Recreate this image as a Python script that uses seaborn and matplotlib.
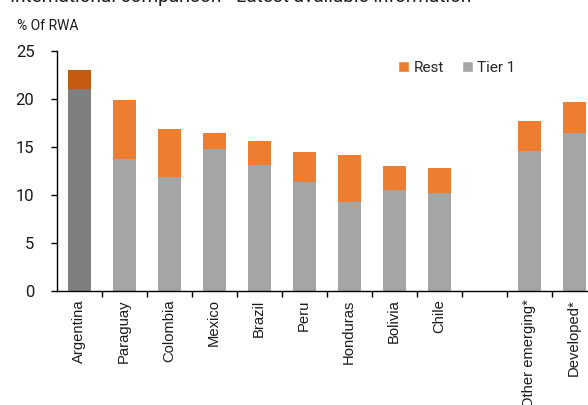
import matplotlib
matplotlib.use("Agg")
import matplotlib.pyplot as plt
from matplotlib.patches import Patch
from matplotlib.ticker import FixedLocator
import seaborn as sns
import pandas as pd
import numpy as np

# ---- data ----
countries = ["Argentina", "Paraguay", "Colombia", "Mexico", "Brazil", "Peru",
             "Honduras", "Bolivia", "Chile", "Other emerging*", "Developed*"]
tier1 = [21.0, 13.8, 11.9, 14.8, 13.1, 11.4, 9.3, 10.55, 10.25, 14.6, 16.45]
rest = [2.0, 6.1, 5.0, 1.7, 2.5, 3.05, 4.9, 2.45, 2.55, 3.1, 3.25]
yticks = [0, 5, 10, 15, 20, 25]

title = "International comparison - Latest available information"
ylabel = "% Of RWA"

# slot order, with an empty gap slot between Chile and Other emerging*
gap = " "
order = countries[:9] + [gap] + countries[9:]

ORANGE = "#ED7D31"
GRAY = "#A5A5A5"
DARK_ORANGE = "#C55A11"
DARK_GRAY = "#7F7F7F"

df = pd.DataFrame({"country": countries, "tier1": tier1, "rest": rest})
df["total"] = df["tier1"] + df["rest"]

top_pal = {c: (DARK_ORANGE if c == "Argentina" else ORANGE) for c in order}
bot_pal = {c: (DARK_GRAY if c == "Argentina" else GRAY) for c in order}

sns.set_theme(style="white")
plt.rcParams["font.family"] = ["Roboto", "DejaVu Sans"]

fig = plt.figure(figsize=(5.88, 4.05), dpi=100)
W, H = 588, 405
ax = fig.add_axes([56.7 / W, 114 / H, 540 / W, 240 / H])

sns.barplot(data=df, x="country", y="total", hue="country", order=order,
            hue_order=order, palette=top_pal, width=0.51, legend=False,
            ax=ax, edgecolor="none", saturation=1)
sns.barplot(data=df, x="country", y="tier1", hue="country", order=order,
            hue_order=order, palette=bot_pal, width=0.51, legend=False,
            ax=ax, edgecolor="none", saturation=1)

ax.set_xlim(-0.5, len(order) - 0.5)
ax.set_ylim(0, 25)
ax.set_yticks(yticks)
ax.set_xlabel("")
ax.set_ylabel("")

for s in ["top", "right"]:
    ax.spines[s].set_visible(False)
for s in ["left", "bottom"]:
    ax.spines[s].set_color("black")
    ax.spines[s].set_linewidth(1.0)

ax.tick_params(axis="y", which="major", left=True, length=4, width=1,
               color="black", labelsize=12, pad=12, labelcolor="#1a1a1a")
ax.set_xticks(range(len(order)))
ax.set_xticklabels(order, rotation=90, fontsize=10.6,
                   family=["Liberation Sans", "DejaVu Sans"])
ax.tick_params(axis="x", which="major", bottom=True, length=0, pad=6,
               labelcolor="#1a1a1a")
ax.xaxis.set_minor_locator(FixedLocator(np.arange(0.5, len(order) - 0.5, 1.0)))
ax.tick_params(axis="x", which="minor", bottom=True, length=4, width=1,
               color="black", direction="out")

handles = [Patch(facecolor=ORANGE, label="Rest"),
           Patch(facecolor=GRAY, label="Tier 1")]
fig.legend(handles=handles, loc="center left",
           bbox_to_anchor=(392 / W, 1 - 68 / H), ncol=2, frameon=False,
           fontsize=11, handlelength=0.7, handleheight=0.7,
           handletextpad=0.3, columnspacing=1.2, borderaxespad=0)

fig.text(17 / W, 1 - 30 / H, ylabel, fontsize=10, ha="left", va="baseline",
         color="#1a1a1a")
fig.text(10 / W, 1 - 2 / H, title, fontsize=13.7, ha="left", va="baseline",
         color="#1a1a1a")

fig.savefig("out.png", dpi=100)
